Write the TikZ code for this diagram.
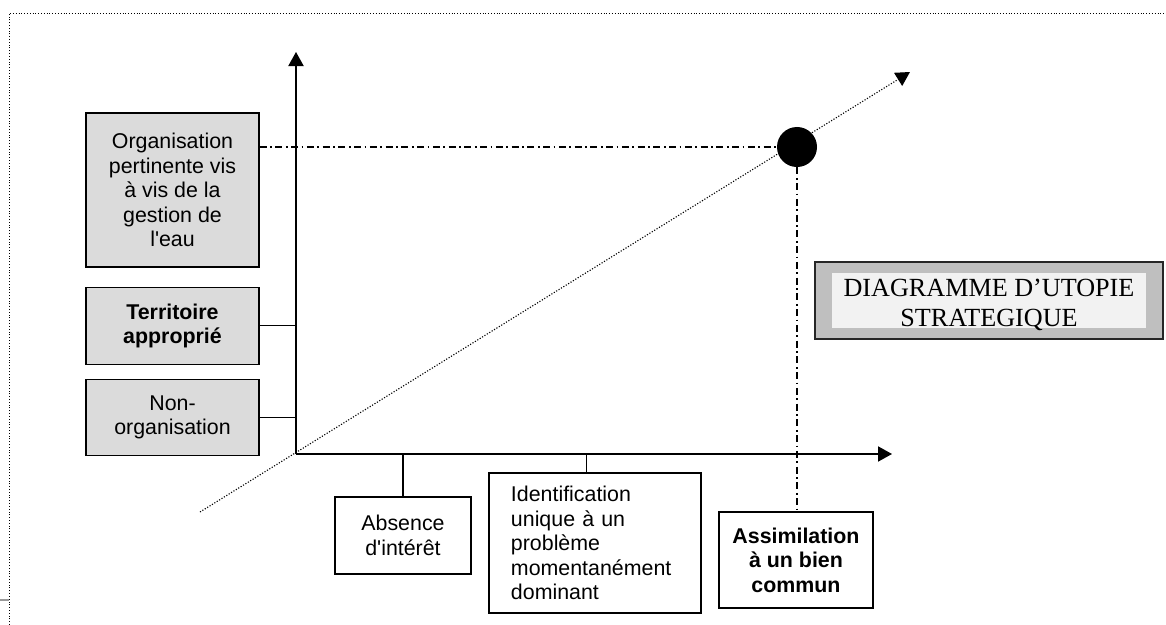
\documentclass[tikz,border=0pt]{standalone}
\usepackage{fontspec}
\setmainfont{Liberation Sans}
\newfontfamily\titlefont{Liberation Serif}
\usepackage{tikz}
\usetikzlibrary{arrows.meta, positioning}
\newcommand{\lblfont}{\fontsize{15.2}{17.4}\selectfont}
\tikzset{
    levelbox/.style={rectangle, draw, line width=0.9pt, fill=black!14, align=center, minimum width=4.325cm, font=\lblfont},
    stagebox/.style={rectangle, draw, line width=0.9pt, fill=white, align=center, font=\lblfont},
    axis/.style={line width=0.9pt, -{Triangle[length=0.35cm, width=0.38cm]}},
    link/.style={line width=0.9pt},
    guide/.style={line width=0.8pt, dash pattern=on 5pt off 2.5pt on 1.2pt off 2.5pt},
    trend/.style={line width=0.8pt, dash pattern=on 0.8pt off 1.2pt, -{Triangle[length=0.35cm, width=0.38cm]}},
    frame/.style={line width=0.6pt, dash pattern=on 0.7pt off 1.3pt}
}

\begin{document}
\begin{tikzpicture}[x=0.025cm, y=-0.025cm]
    \useasboundingbox (0,0) rectangle (1166,625);
    % cadre
    \draw[frame] (9,625) -- (9,13) -- (1166,13);
    \draw[black!40, line width=0.8pt] (0,600) -- (9,600);

    % axes
    \coordinate (O) at (296,454);
    \coordinate (ytip) at (296,52);
    \coordinate (xtip) at (892,454);
    \draw[axis] (O) -- (ytip);
    \draw[axis] (O) -- (xtip);

    % tendance
    \coordinate (tstart) at (200,512);
    \coordinate (tend) at (910,72);
    \draw[trend] (tstart) -- (tend);

    % niveaux (axe vertical)
    \node (org) [levelbox, minimum height=3.85cm] at (172.5,190) {Organisation\\pertinente vis\\à vis de la\\gestion de\\l\textquotesingle eau};
    \node (terr) [levelbox, minimum height=1.925cm, font=\lblfont\bfseries, below=0.475cm of org] {Territoire\\approprié};
    \node (non) [levelbox, minimum height=1.9cm, below=0.35cm of terr] {Non-\\organisation};

    % etapes (axe horizontal)
    \node (abs) [stagebox, minimum width=3.4cm, minimum height=1.925cm] at (403,535.5) {Absence\\d\textquotesingle intérêt};
    \node (ident) [stagebox, minimum width=5.3cm, minimum height=3.5cm, text width=4.2cm, align=left] at (595,543) {Identification\\unique à un\\problème\\momentanément\\dominant};
    \node (assim) [stagebox, minimum width=3.85cm, minimum height=2.4cm, font=\lblfont\bfseries] at (796,560) {Assimilation\\à un bien\\commun};

    % point utopie
    \node (dot) [circle, fill=black, minimum size=1cm, inner sep=0pt] at (797,147) {};

    \draw[link] (terr.east) -- (terr.east -| O);
    \draw[link] (non.east) -- (non.east -| O);
    \draw[link] (abs.north) -- (abs.north |- O);
    \draw[link] ([xshift=-0.22cm]ident.north) -- ([xshift=-0.22cm]ident.north |- O);
    \draw[guide] (dot.west -| org.east) -- (dot.west);
    \draw[guide] (dot.south) -- (dot.south |- assim.north);

    % titre
    \node (shadow) [rectangle, draw=black!85, line width=1pt, fill=black!25, minimum width=8.7cm, minimum height=1.925cm] at (989,300.5) {};
    \node (title) [rectangle, fill=black!5, minimum width=7.85cm, minimum height=1.375cm, inner sep=0pt] at (shadow.center) {};
    \node (titletext) [align=center, inner sep=0pt, font=\titlefont\fontsize{18.6}{21.3}\selectfont] at ([yshift=-0.12cm]title.center) {DIAGRAMME D’UTOPIE\\STRATEGIQUE};
\end{tikzpicture}
\end{document}
